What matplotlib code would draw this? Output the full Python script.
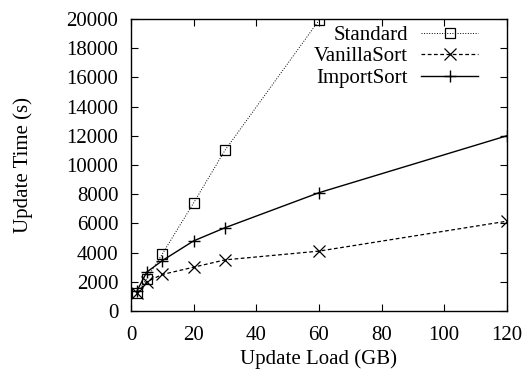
import matplotlib
matplotlib.use("Agg")
import matplotlib.pyplot as plt

plt.rcParams['font.family'] = ['Liberation Serif', 'DejaVu Serif']
plt.rcParams['font.size'] = 15

# datos
load_gb = [2, 5, 10, 20, 30, 60, 120]
standard_x = [2, 5, 10, 20, 30, 60]
standard = [1250, 2200, 3900, 7400, 11000, 19900]
vanilla = [1200, 2000, 2500, 3000, 3500, 4100, 6150]
importsort = [1400, 2650, 3450, 4800, 5700, 8100, 12000]

fig = plt.figure(figsize=(5.28, 3.72), dpi=100)
ax = fig.add_axes([0.248, 0.164, 0.712, 0.785])

ax.plot(standard_x, standard, color='black', linestyle=':', linewidth=0.7,
        marker='s', markersize=7, markerfacecolor='none', markeredgewidth=0.9,
        label='Standard')
ax.plot(load_gb, vanilla, color='black', linestyle=(0, (3, 2)), linewidth=0.9,
        marker='x', markersize=8, markeredgewidth=0.9, label='VanillaSort')
ax.plot(load_gb, importsort, color='black', linestyle='-', linewidth=1.0,
        marker='+', markersize=9, markeredgewidth=1.0, label='ImportSort')

ax.set_xlim(0, 120)
ax.set_ylim(0, 20000)
ax.set_xticks(range(0, 121, 20))
ax.set_yticks(range(0, 20001, 2000))
ax.tick_params(direction='in', top=True, right=True, length=5, width=0.8,
               labelsize=15)
ax.tick_params(axis='x', pad=11)
ax.tick_params(axis='y', pad=9)
for s in ax.spines.values():
    s.set_linewidth(1.0)

ax.set_xlabel('Update Load (GB)', fontsize=15, labelpad=3)
ax.set_ylabel('Update Time (s)', fontsize=15, labelpad=24)

leg = ax.legend(loc='upper right', bbox_to_anchor=(0.939, 1.0), frameon=False,
                markerfirst=False, handlelength=2.7, fontsize=15,
                labelspacing=0.1, borderaxespad=0.0, handletextpad=0.65,
                alignment='right', borderpad=0.3)
for t in leg.get_texts():
    t.set_ha('right')

plt.savefig('out.png', dpi=100)
